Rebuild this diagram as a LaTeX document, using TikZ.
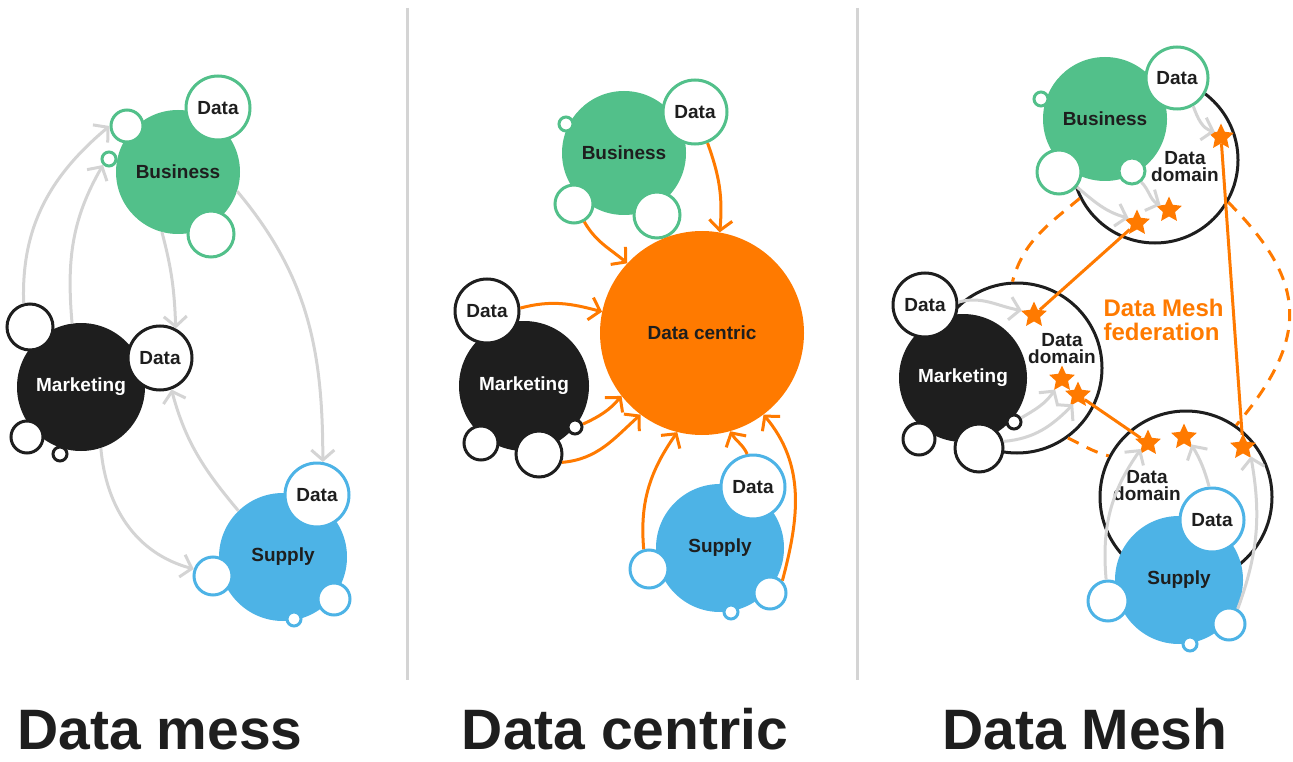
\documentclass[tikz,border=0pt]{standalone}
\usepackage{fontspec}
\setmainfont{Liberation Sans}
\usetikzlibrary{arrows.meta,shapes.geometric}

\definecolor{grn}{HTML}{52C08A}
\definecolor{blu}{HTML}{4DB3E6}
\definecolor{blk}{HTML}{1E1E1E}
\definecolor{org}{HTML}{FF7A00}
\definecolor{lgr}{HTML}{D4D4D4}

\begin{document}
\begin{tikzpicture}[x=1pt, y=-1pt,
  ball/.style={circle, inner sep=0pt, minimum size=2*#1},
  bubble/.style={fill=white, draw=#1, line width=3pt},
  lbl/.style={font=\fontsize{19}{17}\selectfont\bfseries, text=blk, align=center},
  gry/.style={draw=lgr, line width=3pt, -{Straight Barb[length=10pt,width=23pt]}},
  orn/.style={draw=org, line width=3pt, -{Straight Barb[length=10pt,width=23pt]}},
  spark/.style={star, star points=5, star point ratio=2.1, minimum size=27pt, inner sep=0pt, fill=org},
  domain/.style={ball=#1, fill=white, draw=blk, line width=3pt},
  fed/.style={draw=org, line width=3pt},
  fedd/.style={fed, dash pattern=on 12pt off 9pt},
  title/.style={font=\fontsize{57}{57}\selectfont\bfseries, text=blk, anchor=base, inner sep=0pt}]

  \useasboundingbox (0,0) rectangle (1293,762);

  \draw[lgr, line width=3pt] (407,8) -- (407,680);
  \draw[lgr, line width=3pt] (857,8) -- (857,680);

  % Data mess
  \node[ball=62, fill=grn, lbl] (BusA) at (178,172) {Business};
  \node[ball=32, bubble=grn, lbl] (BusAd) at (218,108) {Data};
  \node[ball=16, bubble=grn] (BusA1) at (127,126) {};
  \node[ball=7, bubble=grn] (BusA2) at (109,159) {};
  \node[ball=23, bubble=grn] (BusA3) at (211,234) {};

  \node[ball=64, fill=blk, lbl, text=white] (MktA) at (81,387) {Marketing};
  \node[ball=32, bubble=blk, lbl] (MktAd) at (160,358) {Data};
  \node[ball=23, bubble=blk] (MktA1) at (30,327) {};
  \node[ball=16, bubble=blk] (MktA2) at (27,437) {};
  \node[ball=7, bubble=blk] (MktA3) at (60,454) {};

  \node[ball=64, fill=blu, lbl] (SupA) at (283,557) {Supply};
  \node[ball=32, bubble=blu, lbl] (SupAd) at (317,495) {Data};
  \node[ball=19, bubble=blu] (SupA1) at (213,576) {};
  \node[ball=16, bubble=blu] (SupA2) at (334,599) {};
  \node[ball=7, bubble=blu] (SupA3) at (294,619) {};

  \draw[gry] (MktA1.105) to[out=92,in=220] (BusA1.180);
  \draw[gry] (MktA.98) to[out=95,in=240] (BusA2.225);
  \draw[gry] (BusA.255) to[out=-75,in=92] (MktAd.62);
  \draw[gry] (BusA.-18) to[out=-50,in=90] (SupAd.80);
  \draw[gry] (SupA.134) to[out=130,in=-75] (MktAd.-70);
  \draw[gry] (MktA.-72) to[out=-85,in=165] (SupA1.160);

  % Data centric
  \node[ball=62, fill=grn, lbl] (BusB) at (624,153) {Business};
  \node[ball=32, bubble=grn, lbl] (BusBd) at (695,112) {Data};
  \node[ball=7, bubble=grn] (BusB1) at (566,124) {};
  \node[ball=19, bubble=grn] (BusB2) at (574,204) {};
  \node[ball=23, bubble=grn] (BusB3) at (657,215) {};

  \node[ball=102, fill=org, lbl] (Cen) at (702,333) {Data centric};

  \node[ball=65, fill=blk, lbl, text=white] (MktB) at (524,386) {Marketing};
  \node[ball=32, bubble=blk, lbl] (MktBd) at (487,311) {Data};
  \node[ball=17, bubble=blk] (MktB1) at (481,443) {};
  \node[ball=23, bubble=blk] (MktB2) at (539,454) {};
  \node[ball=7, bubble=blk] (MktB3) at (575,427) {};

  \node[ball=64, fill=blu, lbl] (SupB) at (720,548) {Supply};
  \node[ball=32, bubble=blu, lbl] (SupBd) at (753,487) {Data};
  \node[ball=19, bubble=blu] (SupB1) at (649,569) {};
  \node[ball=16, bubble=blu] (SupB2) at (770,593) {};
  \node[ball=7, bubble=blu] (SupB3) at (731,612) {};

  \draw[orn] (BusB2.-60) to[out=-60,in=140] (Cen.137);
  \draw[orn] (BusBd.-68) to[out=-70,in=85] (Cen.80);
  \draw[orn] (MktBd.5) to[out=15,in=165] (Cen.168);
  \draw[orn] (MktB3.20) to[out=25,in=230] (Cen.218);
  \draw[orn] (MktB2.-20) to[out=5,in=222] (Cen.233);
  \draw[orn] (SupB1.105) to[out=95,in=235] (Cen.256);
  \draw[orn] (SupBd.100) to[out=115,in=-60] (Cen.286);
  \draw[orn] (SupB2.45) to[out=75,in=-50] (Cen.307);

  % Data Mesh
  \node[domain=83] (DomB) at (1155,160) {};
  \node[domain=85] (DomM) at (1017,368) {};
  \node[domain=86] (DomS) at (1186,497) {};

  \draw[fedd] (DomB.207) to[out=220,in=75] (DomM.93);
  \draw[fedd] (DomB.-30) to[out=-45,in=50,looseness=1.3] (DomS.55);
  \draw[fedd] (DomM.-54) to[out=-25,in=165] (DomS.152);

  \node[ball=62, fill=grn, lbl] (BusC) at (1105,119) {Business};
  \node[ball=31, bubble=grn, lbl] (BusCd) at (1177,78) {Data};
  \node[ball=7, bubble=grn] (BusC1) at (1041,99) {};
  \node[ball=22, bubble=grn] (BusC2) at (1059,172) {};
  \node[ball=13, bubble=grn] (BusC3) at (1132,171) {};

  \node[ball=64, fill=blk, lbl, text=white] (MktC) at (963,378) {Marketing};
  \node[ball=32, bubble=blk, lbl] (MktCd) at (925,305) {Data};
  \node[ball=16, bubble=blk] (MktC1) at (919,439) {};
  \node[ball=24, bubble=blk] (MktC2) at (979,448) {};
  \node[ball=7, bubble=blk] (MktC3) at (1014,422) {};

  \node[ball=64, fill=blu, lbl] (SupC) at (1179,580) {Supply};
  \node[ball=32, bubble=blu, lbl] (SupCd) at (1212,520) {Data};
  \node[ball=20, bubble=blu] (SupC1) at (1108,601) {};
  \node[ball=16, bubble=blu] (SupC2) at (1229,624) {};
  \node[ball=7, bubble=blu] (SupC3) at (1190,644) {};

  \node[lbl] (DomBt) at (1185,167) {Data\\domain};
  \node[lbl] (DomMt) at (1062,349) {Data\\domain};
  \node[lbl] (DomSt) at (1147,486) {Data\\domain};

  \node[spark] (StB1) at (1221,137) {};
  \node[spark] (StB2) at (1137,223) {};
  \node[spark] (StB3) at (1169,210) {};
  \node[spark] (StM1) at (1034,315) {};
  \node[spark] (StM2) at (1062,379) {};
  \node[spark] (StM3) at (1078,395) {};
  \node[spark] (StS1) at (1148,443) {};
  \node[spark] (StS2) at (1184,437) {};
  \node[spark] (StS3) at (1243,447) {};

  \draw[gry] (BusCd.-60) to[out=-70,in=165] (StB1.140);
  \draw[gry] (BusC3.-50) to[out=-45,in=155] (StB3.150);
  \draw[gry] (BusC2.-40) to[out=-40,in=165] (StB2.150);
  \draw[gry] (MktCd.5) to[out=15,in=170] (StM1.160);
  \draw[gry] (MktC3.30) to[out=30,in=235] (StM2.237);
  \draw[gry] (MktC2.15) to[out=5,in=225] (StM3.243);
  \draw[gry] (SupC1.95) to[out=95,in=235] (StS1.220);
  \draw[gry] (SupCd.95) to[out=105,in=-60] (StS2.-45);
  \draw[gry] (SupC2.60) to[out=70,in=-80] (StS3.-50);

  \draw[fed] (StB2) -- (StM1);
  \draw[fed] (StM3) -- (StS1);
  \draw[fed] (StB1) -- (StS3);

  \node[font=\fontsize{24}{24}\selectfont\bfseries, text=org, align=left, anchor=west] (Fed) at (1100,320) {Data Mesh\\federation};

  \node[title] (TitA) at (160,749) {Data mess};
  \node[title] (TitB) at (625,749) {Data centric};
  \node[title] (TitC) at (1085,749) {Data Mesh};
\end{tikzpicture}
\end{document}
